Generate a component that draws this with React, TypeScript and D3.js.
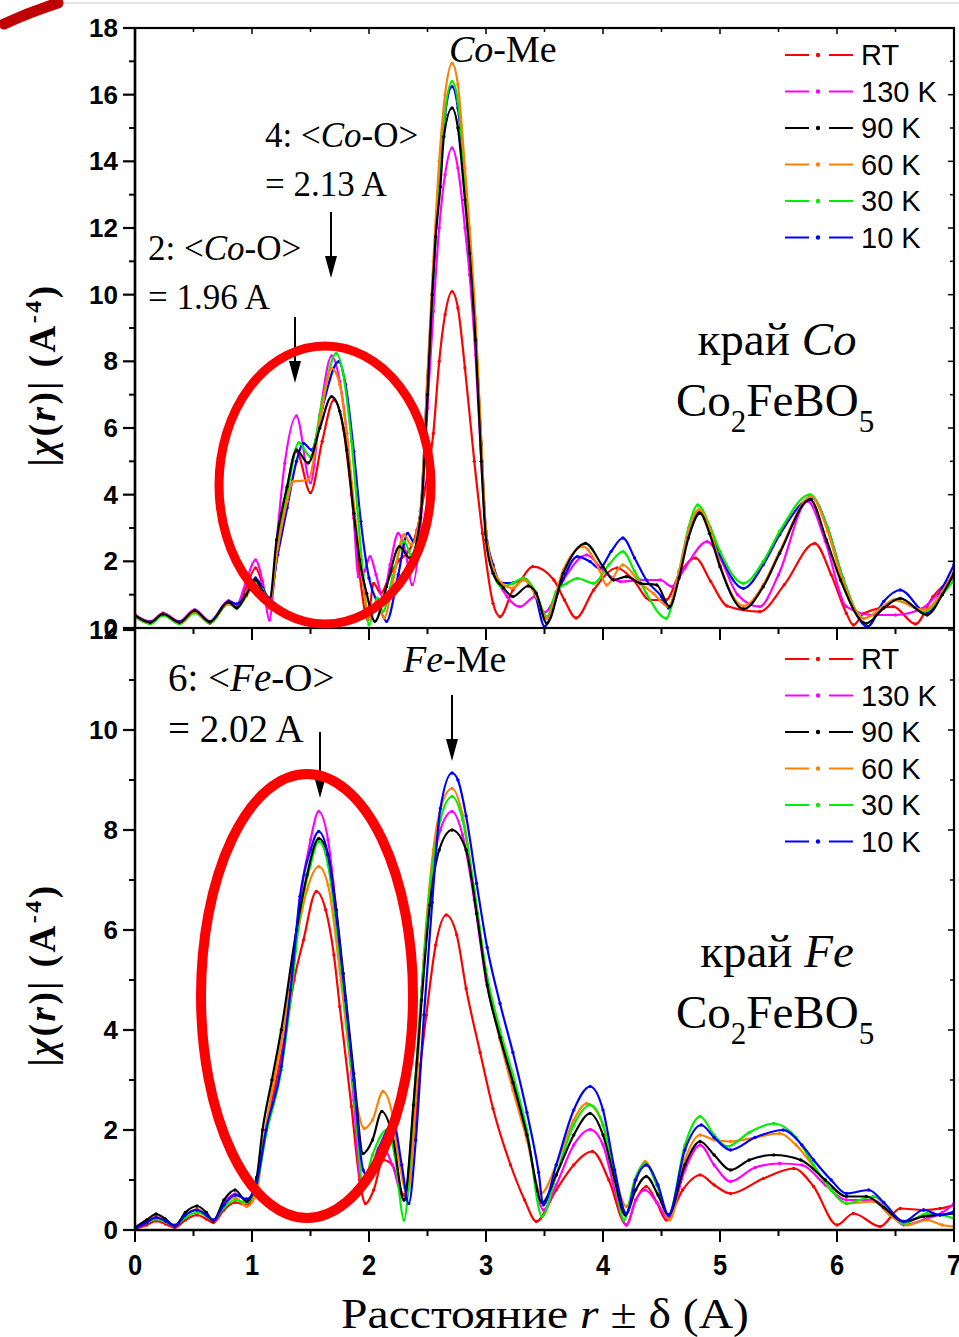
import React from "react";
import * as d3 from "d3";

type P = [number, number];

// ---------- categories / labels ----------
const seriesNames = ["RT", "130 K", "90 K", "60 K", "30 K", "10 K"];
const seriesColors = ["#ff0000", "#ff00ff", "#000000", "#ff8000", "#00ee00", "#0000ff"];
const xTickLabels = [0, 1, 2, 3, 4, 5, 6, 7];
const yTopTicks = [0, 2, 4, 6, 8, 10, 12, 14, 16, 18];
const yBotTicks = [0, 2, 4, 6, 8, 10, 12];

// ---------- Co edge (top panel) ----------
const coRT: P[] = [[0,0.38],[0.13,0.14],[0.24,0.42],[0.38,0.14],[0.51,0.5],[0.64,0.14],[0.8,0.76],[0.87,0.62],[0.95,1.2],[1.03,1.8],[1.09,1.3],[1.15,0.6],[1.22,2.4],[1.3,4.2],[1.38,5.3],[1.5,4.06],[1.6,5.6],[1.7,6.84],[1.78,6.0],[1.85,4.0],[1.92,1.6],[1.99,0.25],[2.04,1.34],[2.1,1.04],[2.18,1.6],[2.26,2.04],[2.34,2.3],[2.41,2.94],[2.48,4.2],[2.55,5.84],[2.6,8.0],[2.65,9.4],[2.71,10.09],[2.76,9.6],[2.82,7.8],[2.9,5.0],[2.97,2.84],[3.06,0.74],[3.12,0.34],[3.23,1.14],[3.29,1.4],[3.4,1.84],[3.58,1.44],[3.67,0.84],[3.77,0.3],[3.92,1.14],[4.12,1.8],[4.26,1.44],[4.4,0.84],[4.54,0.84],[4.65,1.6],[4.79,2.1],[4.92,1.4],[5.06,0.66],[5.34,0.49],[5.55,1.3],[5.81,2.54],[5.95,1.6],[6.08,0.44],[6.14,0.09],[6.23,0.44],[6.48,0.64],[6.67,0.12],[6.82,0.94],[7.0,1.54]];
const co130: P[] = [[0,0.4],[0.13,0.2],[0.24,0.45],[0.38,0.2],[0.51,0.55],[0.64,0.2],[0.8,0.82],[0.87,0.7],[0.95,1.4],[1.03,2.04],[1.09,1.4],[1.15,0.24],[1.2,2.2],[1.28,4.94],[1.38,6.36],[1.5,4.36],[1.58,6.4],[1.68,8.16],[1.75,7.4],[1.81,5.84],[1.87,3.3],[1.91,1.54],[1.96,1.7],[2.01,2.14],[2.06,1.6],[2.12,0.9],[2.18,1.9],[2.25,2.84],[2.31,2.3],[2.37,1.3],[2.44,3.0],[2.5,6.6],[2.55,9.5],[2.6,12.0],[2.65,13.6],[2.71,14.4],[2.76,13.8],[2.82,12.0],[2.86,10.6],[2.91,8.2],[2.96,5.0],[3.0,2.8],[3.06,1.84],[3.18,0.94],[3.29,0.64],[3.42,0.94],[3.5,0.47],[3.66,1.44],[3.86,2.19],[4.0,1.74],[4.15,1.39],[4.32,1.44],[4.49,1.44],[4.59,1.24],[4.7,1.8],[4.89,2.59],[5.0,2.1],[5.15,1.0],[5.34,0.64],[5.5,1.6],[5.75,3.8],[5.9,2.6],[6.08,0.64],[6.31,0.39],[6.5,0.39],[6.73,0.59],[6.88,1.1],[7.0,1.54]];
const co90: P[] = [[0,0.38],[0.13,0.17],[0.24,0.42],[0.38,0.17],[0.51,0.52],[0.64,0.18],[0.8,0.78],[0.87,0.6],[0.95,1.0],[1.03,1.44],[1.09,1.1],[1.15,0.84],[1.21,2.64],[1.3,4.24],[1.38,5.34],[1.48,4.95],[1.58,6.0],[1.68,6.94],[1.75,6.5],[1.81,5.34],[1.87,3.44],[1.92,2.04],[1.98,1.04],[2.05,0.2],[2.15,1.24],[2.26,2.44],[2.35,2.1],[2.44,3.3],[2.5,7.0],[2.54,10.0],[2.57,11.74],[2.61,13.24],[2.64,14.74],[2.71,15.6],[2.76,15.0],[2.82,12.84],[2.86,11.24],[2.91,8.64],[2.96,5.0],[3.0,2.64],[3.06,1.64],[3.15,1.2],[3.23,0.94],[3.36,1.26],[3.43,1.04],[3.52,0.14],[3.66,1.64],[3.85,2.54],[4.0,1.84],[4.09,1.44],[4.2,1.54],[4.32,1.34],[4.46,1.29],[4.57,0.64],[4.65,1.5],[4.73,2.7],[4.83,3.44],[4.91,2.84],[5.0,1.84],[5.2,0.57],[5.37,1.24],[5.51,2.24],[5.77,3.85],[5.91,2.64],[6.03,1.44],[6.25,0.14],[6.4,0.6],[6.54,0.89],[6.77,0.39],[6.9,1.0],[7.0,1.64]];
const co60: P[] = [[0,0.36],[0.13,0.16],[0.24,0.42],[0.38,0.16],[0.51,0.5],[0.64,0.18],[0.8,0.75],[0.87,0.62],[0.95,0.95],[1.03,1.3],[1.09,1.1],[1.15,0.85],[1.22,2.4],[1.3,3.8],[1.35,4.39],[1.48,4.44],[1.58,6.2],[1.68,7.79],[1.75,7.3],[1.82,5.5],[1.88,3.4],[1.94,1.6],[2.0,0.3],[2.07,0.8],[2.13,0.3],[2.2,1.3],[2.3,2.8],[2.36,2.5],[2.44,3.5],[2.5,7.6],[2.55,11.0],[2.6,14.0],[2.65,16.0],[2.71,16.94],[2.76,16.3],[2.82,13.8],[2.86,12.0],[2.91,9.3],[2.96,5.6],[3.0,2.9],[3.06,1.8],[3.15,1.3],[3.23,1.2],[3.32,1.44],[3.43,0.94],[3.52,0.29],[3.66,1.74],[3.83,2.44],[3.97,1.74],[4.03,1.29],[4.17,1.89],[4.32,1.34],[4.43,1.04],[4.56,0.64],[4.65,1.7],[4.73,2.9],[4.82,3.55],[4.92,2.9],[5.0,1.9],[5.2,0.66],[5.37,1.3],[5.51,2.3],[5.78,3.95],[5.92,2.9],[6.05,1.4],[6.23,0.29],[6.38,0.6],[6.48,0.84],[6.75,0.54],[6.9,1.1],[7.0,1.7]];
const co30: P[] = [[0,0.33],[0.13,0.12],[0.24,0.38],[0.38,0.12],[0.51,0.45],[0.64,0.15],[0.8,0.72],[0.87,0.6],[0.95,0.95],[1.03,1.35],[1.09,1.15],[1.15,0.8],[1.22,2.5],[1.3,4.0],[1.4,5.56],[1.5,5.14],[1.6,6.8],[1.72,8.24],[1.78,7.6],[1.85,5.6],[1.9,3.6],[1.95,1.6],[2.0,0.1],[2.07,0.9],[2.12,0.5],[2.2,1.5],[2.3,2.6],[2.36,2.2],[2.44,3.4],[2.5,7.3],[2.55,10.6],[2.6,13.5],[2.65,15.5],[2.71,16.39],[2.76,15.8],[2.82,13.4],[2.86,11.6],[2.91,9.0],[2.96,5.4],[3.0,2.8],[3.06,1.7],[3.13,1.24],[3.23,1.34],[3.32,1.5],[3.42,1.1],[3.52,0.34],[3.6,1.1],[3.69,1.34],[3.78,1.49],[3.92,1.34],[4.05,1.9],[4.17,2.29],[4.27,1.7],[4.37,1.04],[4.54,0.29],[4.65,1.7],[4.73,3.0],[4.81,3.69],[4.92,3.0],[5.0,2.3],[5.2,1.34],[5.37,2.0],[5.51,2.9],[5.77,4.0],[5.92,3.0],[6.05,1.5],[6.23,0.29],[6.38,0.6],[6.5,0.84],[6.75,0.5],[6.9,1.0],[7.0,1.44]];
const co10: P[] = [[0,0.36],[0.13,0.18],[0.24,0.4],[0.38,0.18],[0.51,0.5],[0.64,0.2],[0.8,0.8],[0.87,0.72],[0.95,1.0],[1.03,1.5],[1.09,1.2],[1.15,0.9],[1.22,2.2],[1.3,3.6],[1.38,5.0],[1.44,5.54],[1.51,5.34],[1.6,6.6],[1.74,7.99],[1.8,7.3],[1.87,5.3],[1.93,3.2],[2.0,1.5],[2.08,0.7],[2.15,0.2],[2.25,1.6],[2.33,2.84],[2.38,2.6],[2.44,3.5],[2.5,7.5],[2.55,10.6],[2.6,13.5],[2.65,15.4],[2.71,16.24],[2.76,15.6],[2.82,13.4],[2.86,11.6],[2.91,9.0],[2.96,5.5],[3.0,2.9],[3.06,1.9],[3.13,1.35],[3.23,1.35],[3.32,1.49],[3.42,1.0],[3.5,0.05],[3.64,1.3],[3.78,2.14],[3.89,1.99],[3.97,1.79],[4.07,2.3],[4.17,2.7],[4.27,2.1],[4.37,1.44],[4.5,0.94],[4.56,0.6],[4.65,1.6],[4.73,2.8],[4.83,3.5],[4.92,2.9],[5.0,2.2],[5.2,1.19],[5.37,1.9],[5.51,2.8],[5.79,3.9],[5.92,3.0],[6.05,1.5],[6.26,0.04],[6.4,0.8],[6.54,1.14],[6.77,0.44],[6.9,1.2],[7.0,1.9]];

// ---------- Fe edge (bottom panel) ----------
const feRT: P[] = [[0,0.02],[0.1,0.1],[0.18,0.18],[0.26,0.12],[0.34,0.05],[0.43,0.2],[0.53,0.3],[0.61,0.22],[0.67,0.15],[0.76,0.4],[0.855,0.55],[0.955,0.5],[1.04,0.95],[1.12,2.0],[1.2,2.9],[1.29,4.0],[1.36,5.0],[1.44,5.8],[1.55,6.77],[1.63,6.4],[1.7,5.5],[1.75,4.47],[1.85,2.47],[1.92,1.0],[1.97,0.53],[2.04,0.8],[2.12,1.4],[2.2,1.3],[2.3,0.7],[2.38,1.8],[2.44,3.3],[2.49,4.3],[2.57,5.7],[2.66,6.3],[2.75,5.9],[2.83,4.83],[2.95,3.55],[3.06,2.43],[3.21,1.3],[3.33,0.6],[3.43,0.17],[3.6,0.8],[3.75,1.3],[3.91,1.57],[4.05,1.0],[4.2,0.1],[4.28,0.6],[4.37,0.87],[4.46,0.55],[4.54,0.2],[4.68,0.8],[4.83,1.1],[4.95,0.9],[5.09,0.73],[5.37,1.03],[5.63,1.23],[5.8,0.87],[6.0,0.1],[6.14,0.33],[6.37,0.07],[6.54,0.43],[6.74,0.4],[6.88,0.43],[7.0,0.5]];
const fe130: P[] = [[0,0.04],[0.1,0.17],[0.18,0.26],[0.26,0.18],[0.34,0.08],[0.43,0.3],[0.53,0.4],[0.61,0.3],[0.67,0.2],[0.76,0.55],[0.855,0.72],[0.955,0.6],[1.04,1.0],[1.12,2.0],[1.25,3.3],[1.33,4.8],[1.41,6.6],[1.5,7.8],[1.57,8.37],[1.65,7.8],[1.72,6.4],[1.8,4.4],[1.87,2.6],[1.93,1.0],[2.0,1.1],[2.1,1.7],[2.2,1.3],[2.3,0.6],[2.38,2.4],[2.45,4.8],[2.52,6.8],[2.61,8.0],[2.71,8.37],[2.8,7.9],[2.9,6.6],[3.0,5.0],[3.12,3.9],[3.23,3.0],[3.35,1.9],[3.49,0.4],[3.6,0.9],[3.75,1.7],[3.89,2.01],[4.0,1.7],[4.1,0.8],[4.2,0.1],[4.28,0.6],[4.36,0.8],[4.46,0.55],[4.56,0.23],[4.7,1.2],[4.83,1.7],[4.95,1.3],[5.09,0.97],[5.3,1.25],[5.51,1.33],[5.7,1.3],[5.9,0.9],[6.08,0.6],[6.31,0.6],[6.45,0.35],[6.57,0.1],[6.77,0.23],[6.9,0.35],[7.0,0.53]];
const fe90: P[] = [[0,0.05],[0.1,0.2],[0.18,0.32],[0.26,0.22],[0.34,0.08],[0.43,0.35],[0.53,0.48],[0.61,0.35],[0.67,0.18],[0.76,0.6],[0.855,0.8],[0.955,0.57],[1.04,1.05],[1.09,2.0],[1.17,3.0],[1.25,4.0],[1.38,6.0],[1.47,7.1],[1.57,7.83],[1.65,7.5],[1.72,6.4],[1.78,5.13],[1.87,3.13],[1.95,1.53],[2.03,1.8],[2.11,2.37],[2.2,1.9],[2.3,0.6],[2.38,2.5],[2.45,4.6],[2.52,6.5],[2.6,7.6],[2.71,8.0],[2.83,7.6],[2.92,6.33],[3.01,4.9],[3.12,3.85],[3.23,2.95],[3.35,1.9],[3.48,0.55],[3.6,1.1],[3.75,1.9],[3.89,2.33],[4.0,1.9],[4.1,1.0],[4.19,0.3],[4.28,0.8],[4.37,1.07],[4.47,0.7],[4.56,0.3],[4.7,1.3],[4.83,1.77],[4.95,1.5],[5.09,1.2],[5.25,1.4],[5.46,1.5],[5.69,1.4],[5.9,1.0],[6.08,0.67],[6.25,0.67],[6.4,0.45],[6.57,0.17],[6.74,0.27],[6.88,0.3],[7.0,0.33]];
const fe60: P[] = [[0,0.04],[0.1,0.2],[0.18,0.3],[0.26,0.2],[0.34,0.1],[0.43,0.3],[0.53,0.42],[0.61,0.3],[0.67,0.2],[0.76,0.5],[0.855,0.65],[0.955,0.47],[1.04,0.75],[1.1,1.8],[1.18,2.9],[1.27,4.0],[1.38,5.8],[1.47,6.8],[1.57,7.27],[1.65,6.9],[1.76,5.0],[1.85,3.2],[1.96,2.03],[2.03,2.2],[2.12,2.77],[2.2,2.3],[2.25,1.5],[2.33,0.7],[2.4,2.6],[2.47,5.5],[2.55,7.6],[2.62,8.5],[2.71,8.83],[2.8,8.3],[2.9,6.8],[3.0,5.1],[3.12,3.8],[3.23,2.8],[3.35,1.8],[3.47,0.73],[3.6,1.3],[3.75,2.2],[3.86,2.53],[4.0,2.1],[4.1,1.1],[4.2,0.47],[4.28,1.0],[4.36,1.37],[4.46,0.9],[4.57,0.2],[4.7,1.4],[4.83,1.9],[4.95,1.8],[5.09,1.77],[5.3,1.85],[5.51,1.93],[5.65,1.7],[5.8,1.27],[5.95,0.8],[6.08,0.53],[6.31,0.57],[6.45,0.3],[6.6,0.1],[6.77,0.2],[6.9,0.1],[7.0,0.07]];
const fe30: P[] = [[0,0.04],[0.1,0.15],[0.18,0.22],[0.26,0.16],[0.34,0.1],[0.43,0.25],[0.53,0.35],[0.61,0.28],[0.67,0.2],[0.76,0.45],[0.855,0.6],[0.955,0.55],[1.04,0.9],[1.12,1.9],[1.25,3.2],[1.33,4.6],[1.41,6.3],[1.5,7.3],[1.57,7.77],[1.65,7.3],[1.72,6.1],[1.8,4.4],[1.87,2.8],[1.95,0.93],[2.03,1.5],[2.15,2.0],[2.22,1.5],[2.3,0.2],[2.38,2.5],[2.45,4.8],[2.52,6.8],[2.61,8.2],[2.71,8.67],[2.8,8.2],[2.9,6.8],[3.0,5.2],[3.12,4.0],[3.23,3.1],[3.35,2.0],[3.48,0.27],[3.6,1.1],[3.75,2.1],[3.89,2.5],[4.0,2.1],[4.1,1.0],[4.18,0.2],[4.27,1.0],[4.36,1.33],[4.46,0.9],[4.56,0.3],[4.7,1.7],[4.83,2.27],[4.95,1.9],[5.06,1.67],[5.25,1.95],[5.46,2.13],[5.65,1.85],[5.8,1.3],[5.95,0.8],[6.08,0.53],[6.31,0.67],[6.45,0.4],[6.57,0.13],[6.77,0.33],[6.9,0.3],[7.0,0.23]];
const fe10: P[] = [[0,0.03],[0.1,0.15],[0.18,0.25],[0.26,0.18],[0.34,0.08],[0.43,0.3],[0.53,0.4],[0.61,0.3],[0.67,0.2],[0.76,0.5],[0.855,0.7],[0.955,0.62],[1.04,0.95],[1.12,2.0],[1.25,3.27],[1.33,4.8],[1.41,6.67],[1.5,7.6],[1.57,7.97],[1.65,7.5],[1.72,6.3],[1.8,4.6],[1.87,3.0],[1.95,1.2],[2.0,1.05],[2.08,1.6],[2.21,2.13],[2.28,1.3],[2.34,0.53],[2.4,1.8],[2.47,4.3],[2.54,6.55],[2.61,8.43],[2.71,9.14],[2.76,9.0],[2.83,8.28],[2.92,6.93],[3.01,5.65],[3.12,4.53],[3.23,3.55],[3.35,2.35],[3.45,1.15],[3.49,0.5],[3.6,1.3],[3.75,2.4],[3.89,2.87],[4.0,2.4],[4.1,1.2],[4.2,0.33],[4.28,1.0],[4.37,1.3],[4.47,0.9],[4.56,0.3],[4.7,1.6],[4.84,2.1],[4.95,1.85],[5.09,1.6],[5.3,1.85],[5.54,2.0],[5.7,1.7],[5.8,1.4],[5.95,1.0],[6.08,0.73],[6.27,0.8],[6.4,0.55],[6.57,0.17],[6.74,0.4],[6.88,0.3],[7.0,0.37]];

const coSeries = [coRT, co130, co90, co60, co30, co10];
const feSeries = [feRT, fe130, fe90, fe60, fe30, fe10];
const coDrawOrder = [0, 1, 5, 4, 3, 2];
const feDrawOrder = [0, 1, 3, 4, 2, 5];

const W = 959, H = 1337;
const X0 = 135, X1 = 954;
const x = d3.scaleLinear().domain([0, 7]).range([X0, X1]);
const yTop = d3.scaleLinear().domain([0, 18]).range([628, 28]);
const yBot = d3.scaleLinear().domain([0, 12]).range([1230, 630]);

const serif = "'Liberation Serif', 'Times New Roman', serif";
const sans = "'Liberation Sans', Arial, sans-serif";

function Curves({ series, order, y, clip }: { series: P[][]; order: number[]; y: d3.ScaleLinear<number, number>; clip: string }) {
  const line = d3.line<P>().x(d => x(d[0])).y(d => y(d[1])).curve(d3.curveMonotoneX);
  return (
    <g clipPath={`url(#${clip})`}>
      {order.map(i => (
        <g key={i}>
          <path d={line(series[i]) || ""} fill="none" stroke={seriesColors[i]} strokeWidth={2.2} strokeLinejoin="round" />
          {series[i].map((d, j) => (
            <circle key={j} cx={x(d[0])} cy={y(d[1])} r={1.7} fill={seriesColors[i]} />
          ))}
        </g>
      ))}
    </g>
  );
}

function Legend({ top }: { top: number }) {
  return (
    <g>
      {seriesNames.map((n, i) => {
        const yy = top + i * 36.5;
        return (
          <g key={n}>
            <line x1={785} x2={809} y1={yy} y2={yy} stroke={seriesColors[i]} strokeWidth={2} />
            <circle cx={818} cy={yy} r={2.2} fill={seriesColors[i]} />
            <line x1={829} x2={853} y1={yy} y2={yy} stroke={seriesColors[i]} strokeWidth={2} />
            <text x={861} y={yy + 10} fontFamily={sans} fontSize={29} fill="#000">{n}</text>
          </g>
        );
      })}
    </g>
  );
}

function YAxis({ y, ticks, minorMax }: { y: d3.ScaleLinear<number, number>; ticks: number[]; minorMax: number }) {
  const minors = d3.range(1, minorMax, 2);
  return (
    <g>
      {ticks.map(t => (
        <g key={"M" + t}>
          <line x1={X0 - 12} x2={X0} y1={y(t)} y2={y(t)} stroke="#000" strokeWidth={2.2} />
          <line x1={X1 - 6} x2={X1} y1={y(t)} y2={y(t)} stroke="#000" strokeWidth={1.5} />
          <text x={118} y={y(t) + 9} textAnchor="end" fontFamily={sans} fontWeight="bold" fontSize={26}>{t}</text>
        </g>
      ))}
      {minors.map(t => (
        <g key={"m" + t}>
          <line x1={X0 - 6} x2={X0} y1={y(t)} y2={y(t)} stroke="#000" strokeWidth={2} />
          <line x1={X1 - 4} x2={X1} y1={y(t)} y2={y(t)} stroke="#000" strokeWidth={1.5} />
        </g>
      ))}
    </g>
  );
}

function YLabel({ cy }: { cy: number }) {
  return (
    <text transform={`translate(55,${cy}) rotate(-90)`} textAnchor="middle" fontFamily={serif} fontWeight="bold" fontSize={37} letterSpacing={2.5}>
      |<tspan fontStyle="italic">χ</tspan>(<tspan fontStyle="italic">r</tspan>)| (A<tspan fontSize={24} dy={-14}>-4</tspan><tspan dy={14}>)</tspan>
    </text>
  );
}

function Arrow({ ax, y1, y2 }: { ax: number; y1: number; y2: number }) {
  return (
    <g>
      <line x1={ax} x2={ax} y1={y1} y2={y2 - 18} stroke="#000" strokeWidth={2} />
      <path d={`M${ax - 6},${y2 - 22} L${ax + 6},${y2 - 22} L${ax},${y2} Z`} fill="#000" />
    </g>
  );
}

function Formula({ xx, yy }: { xx: number; yy: number }) {
  return (
    <text x={xx} y={yy} fontFamily={serif} fontSize={47}>
      Co<tspan fontSize={31} dy={16}>2</tspan><tspan dy={-16}>FeBO</tspan><tspan fontSize={31} dy={16}>5</tspan>
    </text>
  );
}

export default function App() {
  const halfTicks = d3.range(0, 7.01, 0.5);
  return (
    <svg width={W} height={H} viewBox={`0 0 ${W} ${H}`} style={{ position: "absolute", left: 0, top: 0, background: "#fff" }}>
      <defs>
        <clipPath id="clipTop"><rect x={X0} y={28} width={X1 - X0} height={600} /></clipPath>
        <clipPath id="clipBot"><rect x={X0} y={630} width={X1 - X0} height={600} /></clipPath>
      </defs>
      <rect width={W} height={H} fill="#fff" />
      {/* decorative corner stroke */}
      <line x1={60} x2={W} y1={3} y2={3} stroke="#e4e4e4" strokeWidth={2} />
      <path d="M4,24 Q30,12 58,3" fill="none" stroke="#c00000" strokeWidth={11} strokeLinecap="round" />

      {/* ---- top panel ---- */}
      <Curves series={coSeries} order={coDrawOrder} y={yTop} clip="clipTop" />
      <rect x={X0} y={28} width={X1 - X0} height={600} fill="none" stroke="#000" strokeWidth={2.2} />
      {halfTicks.map(t => (
        <g key={"tt" + t}>
          <line x1={x(t)} x2={x(t)} y1={28} y2={Number.isInteger(t) ? 34 : 32} stroke="#000" strokeWidth={1.5} />
          <line x1={x(t)} x2={x(t)} y1={628} y2={Number.isInteger(t) ? 640 : 634} stroke="#000" strokeWidth={2} />
        </g>
      ))}
      <YAxis y={yTop} ticks={yTopTicks} minorMax={18} />
      <YLabel cy={375} />
      <Legend top={55} />
      <text x={449} y={62} fontFamily={serif} fontSize={38}><tspan fontStyle="italic">Co</tspan>-Me</text>
      <text x={265} y={147} fontFamily={serif} fontSize={35}>4: &lt;<tspan fontStyle="italic">Co</tspan>-O&gt;</text>
      <text x={265} y={196} fontFamily={serif} fontSize={35}>= 2.13 A</text>
      <text x={148} y={260} fontFamily={serif} fontSize={35}>2: &lt;<tspan fontStyle="italic">Co</tspan>-O&gt;</text>
      <text x={148} y={309} fontFamily={serif} fontSize={35}>= 1.96 A</text>
      <Arrow ax={331} y1={212} y2={278} />
      <Arrow ax={295} y1={317} y2={383} />
      <text x={777} y={355} textAnchor="middle" fontFamily={serif} fontSize={47}>край <tspan fontStyle="italic">Co</tspan></text>
      <Formula xx={676} yy={416} />
      <ellipse cx={325} cy={485} rx={106} ry={139} fill="none" stroke="#ff0000" strokeWidth={9} />

      {/* ---- bottom panel ---- */}
      <Curves series={feSeries} order={feDrawOrder} y={yBot} clip="clipBot" />
      <line x1={X1} x2={X1} y1={630} y2={1230} stroke="#000" strokeWidth={2.2} />
      <line x1={X0} x2={X1} y1={1230} y2={1230} stroke="#000" strokeWidth={2.5} />
      <line x1={X0} x2={X0} y1={28} y2={1230} stroke="#000" strokeWidth={2.5} />
      {halfTicks.map(t => (
        <line key={"bt" + t} x1={x(t)} x2={x(t)} y1={1230} y2={Number.isInteger(t) ? 1242 : 1236} stroke="#000" strokeWidth={2} />
      ))}
      {xTickLabels.map(t => (
        <text key={"xl" + t} transform={`translate(${x(t)},1275) scale(0.85,1)`} textAnchor="middle" fontFamily={sans} fontWeight="bold" fontSize={30}>{t}</text>
      ))}
      <YAxis y={yBot} ticks={yBotTicks} minorMax={12} />
      <YLabel cy={975} />
      <Legend top={659} />
      <text x={403} y={672} fontFamily={serif} fontSize={38}><tspan fontStyle="italic">Fe</tspan>-Me</text>
      <text x={168} y={691} fontFamily={serif} fontSize={39}>6: &lt;<tspan fontStyle="italic">Fe</tspan>-O&gt;</text>
      <text x={168} y={742} fontFamily={serif} fontSize={39}>= 2.02 A</text>
      <Arrow ax={320} y1={732} y2={798} />
      <Arrow ax={452} y1={695} y2={761} />
      <text x={777} y={967} textAnchor="middle" fontFamily={serif} fontSize={47}>край <tspan fontStyle="italic">Fe</tspan></text>
      <Formula xx={676} yy={1028} />
      <ellipse cx={307} cy={996} rx={106} ry={222} fill="none" stroke="#ff0000" strokeWidth={10} />

      <text x={545} y={1328} textAnchor="middle" fontFamily={serif} fontSize={42} textLength={408} lengthAdjust="spacingAndGlyphs">
        Расстояние <tspan fontStyle="italic">r</tspan> ± δ (A)
      </text>
    </svg>
  );
}
